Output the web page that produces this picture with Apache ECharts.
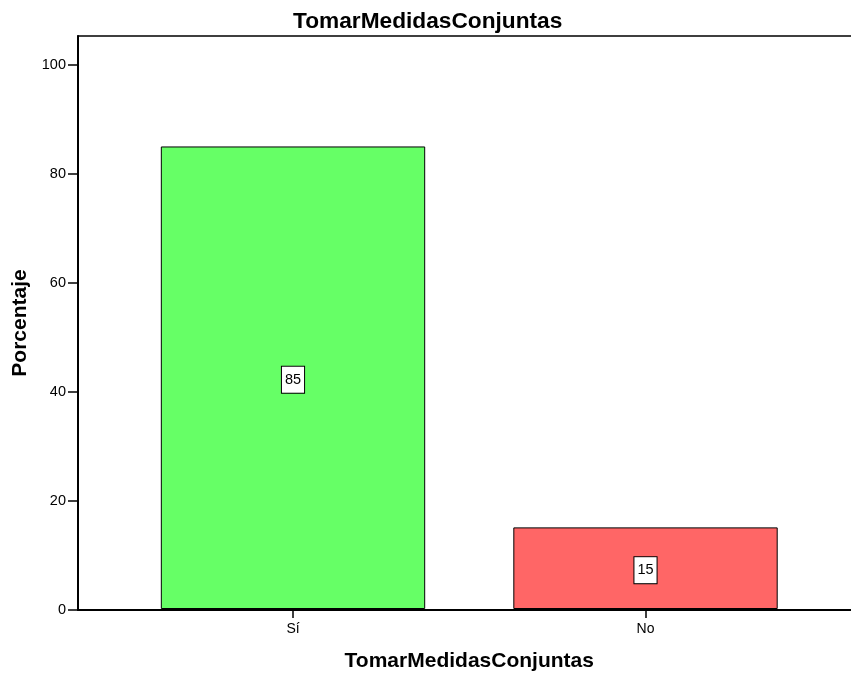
<!DOCTYPE html>
<html>
<head>
<meta charset="utf-8">
<script src="https://cdn.jsdelivr.net/npm/echarts@6/dist/echarts.min.js"></script>
<style>
html,body{margin:0;padding:0;background:#fff;}
#chart{width:851px;height:677px;}
</style>
</head>
<body>
<div id="chart"></div>
<script>
const chartTitle = 'TomarMedidasConjuntas';
const xAxisTitle = 'TomarMedidasConjuntas';
const yAxisTitle = 'Porcentaje';
const categories = ['Sí', 'No'];
const percentages = [85, 15];
const barColors = ['#66FF66', '#FF6666'];
const yTickValues = [0, 20, 40, 60, 80, 100];

const FONT = '"Liberation Sans", Arial, sans-serif';
const Y_MAX = 105.3;

const chart = echarts.init(document.getElementById('chart'));
chart.setOption({
  animation: false,
  backgroundColor: '#ffffff',
  textStyle: { fontFamily: FONT },
  title: {
    text: chartTitle,
    left: 288,
    top: 5,
    textStyle: { fontFamily: FONT, fontWeight: 'bold', fontSize: 22.7, color: '#000' }
  },
  grid: [
    { left: 78, right: -2, top: 36, bottom: 67, containLabel: false },
    { left: 116.75, width: 705, top: 36, bottom: 67, containLabel: false }
  ],
  xAxis: [
    { gridIndex: 0, type: 'value', min: 0, max: 1, position: 'bottom',
      axisLine: { show: true, lineStyle: { color: '#000', width: 2 } },
      axisTick: { show: false }, axisLabel: { show: false }, splitLine: { show: false } },
    { gridIndex: 0, type: 'value', min: 0, max: 1, position: 'top',
      axisLine: { show: true, lineStyle: { color: '#000', width: 1.5 } },
      axisTick: { show: false }, axisLabel: { show: false }, splitLine: { show: false } },
    { gridIndex: 1, type: 'category', data: categories, position: 'bottom',
      axisLine: { show: false },
      axisTick: { show: true, alignWithLabel: true, length: 9, lineStyle: { color: '#000', width: 1.5 } },
      axisLabel: { margin: 13, fontSize: 14, color: '#000', fontFamily: FONT },
      name: xAxisTitle, nameLocation: 'middle', nameGap: 42,
      nameTextStyle: { fontFamily: FONT, fontWeight: 'bold', fontSize: 21, color: '#000' } }
  ],
  yAxis: [
    { gridIndex: 0, type: 'value', min: 0, max: Y_MAX, interval: 20,
      axisLine: { show: true, lineStyle: { color: '#000', width: 2 } },
      axisTick: { show: true, length: 10, customValues: yTickValues, lineStyle: { color: '#000', width: 1.5 } },
      axisLabel: { customValues: yTickValues, margin: 12, fontSize: 14.5, color: '#000', fontFamily: FONT },
      splitLine: { show: false },
      name: yAxisTitle, nameLocation: 'middle', nameGap: 46, nameRotate: 90,
      nameTextStyle: { fontFamily: FONT, fontWeight: 'bold', fontSize: 21, color: '#000' } },
    { gridIndex: 1, type: 'value', min: 0, max: Y_MAX, show: false, splitLine: { show: false } }
  ],
  series: [{
    type: 'bar',
    xAxisIndex: 2,
    yAxisIndex: 1,
    barWidth: '75%',
    data: percentages.map((v, i) => ({
      value: v,
      itemStyle: { color: barColors[i], borderColor: '#000', borderWidth: 1 }
    })),
    label: {
      show: true,
      position: 'inside',
      offset: [0, 2],
      formatter: '{c}',
      fontFamily: FONT,
      fontSize: 14.5,
      color: '#000',
      backgroundColor: '#fff',
      borderColor: '#000',
      borderWidth: 1,
      padding: [5, 3],
      lineHeight: 16
    }
  }]
});
</script>
</body>
</html>
